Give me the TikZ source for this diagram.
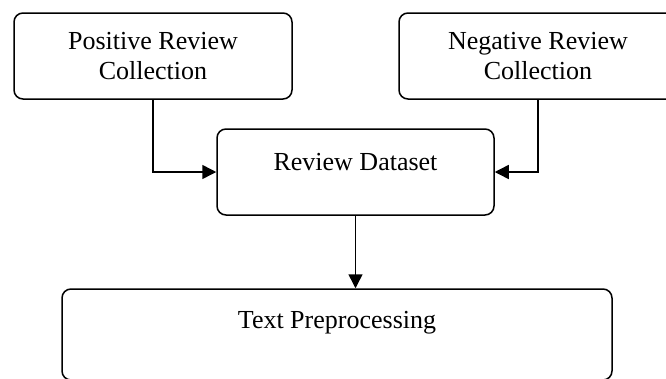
\documentclass[tikz,border=0pt]{standalone}
\usepackage{fontspec}
\setmainfont{Liberation Serif}
\usetikzlibrary{arrows.meta}

\begin{document}
\begin{tikzpicture}[x=1pt, y=-1pt]
        \tikzset{stagebox/.style={draw, line width=1.5pt, rounded corners=9pt, align=center, minimum height=86pt, font=\fontsize{26}{30}\selectfont}}
        \tikzset{flowarrow/.style={line width=1.5pt, -{Triangle[length=14pt, width=14pt]}}}

        \useasboundingbox (0,0) rectangle (666,378);

        \node[stagebox, minimum width=278pt] (pos) at (153,56) {Positive Review\\Collection};
        \node[stagebox, minimum width=278pt] (neg) at (538,56) {Negative Review\\Collection};
        \node[stagebox, minimum width=277pt, text depth=20pt] (data) at (355.5,172) {Review Dataset};
        \node[stagebox, minimum width=550pt, minimum height=91pt, text depth=29pt] (prep) at (337,334.5) {Text Preprocessing};

        \draw[flowarrow] (pos.south) |- (data.west);
        \draw[flowarrow] (neg.south) |- (data.east);
        \draw[flowarrow] (data.south) -- (data.south |- prep.north);

    \end{tikzpicture}
\end{document}
